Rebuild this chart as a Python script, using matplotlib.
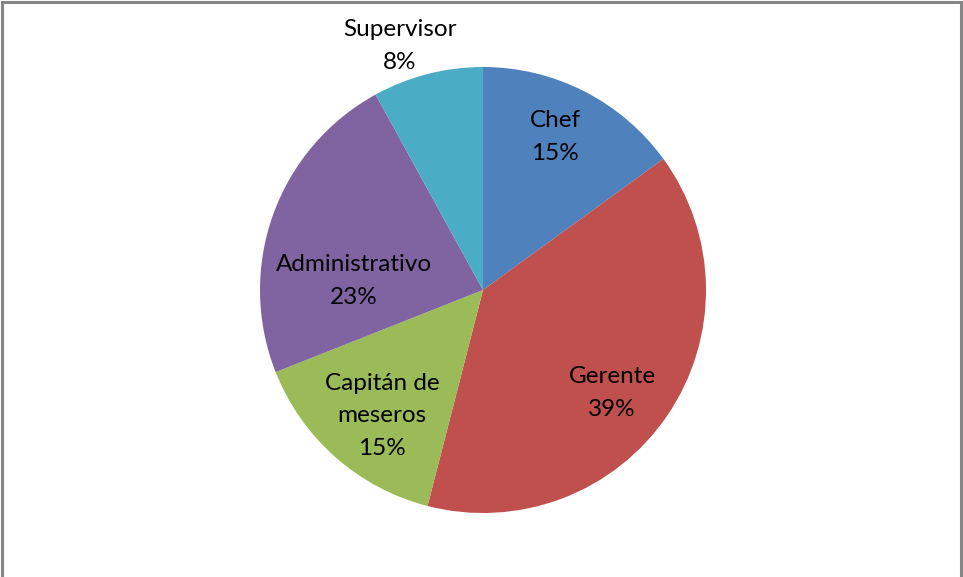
import matplotlib.pyplot as plt

categories = ['Chef', 'Gerente', 'Capitán de\nmeseros', 'Administrativo', 'Supervisor']
percentages = [15, 39, 15, 23, 8]
colors = ['#4F81BD', '#C0504D', '#9BBB59', '#8064A2', '#4BACC6']

# label anchor points (pixels), one per slice
label_pos = [(555, 137), (612, 393), (382, 416), (354, 281), (400, 46)]

plt.rcParams['font.family'] = ['Lato', 'DejaVu Sans']

fig = plt.figure(figsize=(9.63, 5.77), dpi=100)
ax = fig.add_axes([0, 0, 1, 1])

# y axis runs downward, so counterclock=True reads clockwise on screen
ax.pie(percentages, colors=colors, startangle=-90, counterclock=True,
       center=(483, 290), radius=223, frame=True,
       wedgeprops={'linewidth': 0})
ax.set_xlim(0, 963)
ax.set_ylim(577, 0)
ax.set_aspect('equal')
ax.axis('off')

for cat, pct, (x, y) in zip(categories, percentages, label_pos):
    ax.text(x, y, f'{cat}\n{pct}%', ha='center', va='center', fontsize=17.5,
            color='black', linespacing=1.65)

# chart area border
ax.plot([2, 2, 961, 961], [580, 2, 2, 580], color='#868686', lw=2.2,
        solid_joinstyle='miter', clip_on=False)

fig.savefig('out.png', dpi=100)
